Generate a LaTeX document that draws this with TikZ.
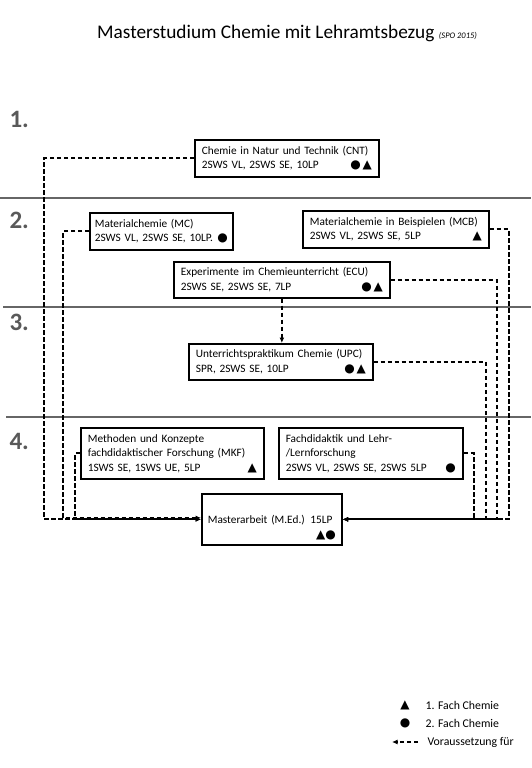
\documentclass[tikz,border=0pt]{standalone}
\usepackage{fontspec}
\setmainfont{Carlito}
\newfontfamily\symfont{DejaVu Sans}
\usetikzlibrary{arrows.meta}

\newcommand{\tri}{{\symfont\fontsize{12}{12}\selectfont ▲}}
\newcommand{\cir}{{\symfont\fontsize{12}{12}\selectfont ●}}

\tikzset{
    modul/.style={draw, line width=1.7pt, anchor=north west, inner xsep=7pt, inner ysep=2pt,
        align=left, font=\fontsize{11.3}{14.5}\selectfont},
    dep/.style={line width=1.9pt, dash pattern=on 4.5pt off 2.5pt, -{Latex[length=5.5pt,width=5pt]}},
    sem/.style={anchor=west, text=black!65, font=\bfseries\fontsize{25}{25}\selectfont},
    semline/.style={line width=2pt, black!60}
}

\begin{document}
\begin{tikzpicture}[x=1pt,y=-1pt]
    \useasboundingbox (0,0) rectangle (531,768);

    \node[anchor=base west, inner sep=0pt, font=\fontsize{19.3}{20}\selectfont] (title) at (97,39) {Masterstudium Chemie mit Lehramtsbezug};
    \node[anchor=base west, inner sep=0pt, font=\itshape\fontsize{8.5}{9}\selectfont] (spo) at ([xshift=4pt]title.base east) {(SPO 2015)};

    % Semester
    \node[sem] (s1) at (6,119) {1.};
    \node[sem] (s2) at (6,220) {2.};
    \node[sem] (s3) at (6,322) {3.};
    \node[sem] (s4) at (6,441) {4.};
    \draw[semline] (0,198) -- (531,198);
    \draw[semline] (3,307) -- (531,307);
    \draw[semline] (6,417) -- (531,417);

    % Module
    \node[modul, text width=170pt, minimum height=37pt] (cnt) at (194,139)
        {Chemie in Natur und Technik (CNT)\\2SWS VL, 2SWS SE, 10LP \hfill\cir\,\tri\hspace*{6pt}};
    \node[modul, text width=133pt, minimum height=37pt, inner xsep=5pt] (mc) at (89,212)
        {Materialchemie (MC)\\2SWS VL, 2SWS SE, 10LP.\hfill\cir};
    \node[modul, text width=172pt, minimum height=37pt] (mcb) at (302,210)
        {Materialchemie in Beispielen (MCB)\\2SWS VL, 2SWS SE, 5LP \hfill\tri};
    \node[modul, text width=202pt, minimum height=36pt] (ecu) at (173,261)
        {Experimente im Chemieunterricht (ECU)\\2SWS SE, 2SWS SE, 7LP \hfill\cir\,\tri};
    \node[modul, text width=170pt, minimum height=36pt] (upc) at (188,343)
        {Unterrichtspraktikum Chemie (UPC)\\SPR, 2SWS SE, 10LP \hfill\cir\,\tri\hspace*{4pt}};
    \node[modul, text width=169pt, minimum height=51pt] (mkf) at (80,427)
        {Methoden und Konzepte\\fachdidaktischer Forschung (MKF)\\1SWS SE, 1SWS UE, 5LP \hfill\tri\hspace*{6pt}};
    \node[modul, text width=170pt, minimum height=51pt] (fd) at (278,427)
        {Fachdidaktik und Lehr-\\/Lernforschung\\2SWS VL, 2SWS SE, 2SWS 5LP \hfill\cir\hspace*{4pt}};
    \node[modul, text width=128pt, minimum height=51pt, inner xsep=6pt] (ma) at (201,493)
        {\strut\\Masterarbeit (M.Ed.) 15LP\\\hfill\tri\cir\hspace*{-4pt}};

    % Voraussetzungen
    \draw[dep] (cnt.west) -- ++(-150,0) |- (ma.west);
    \draw[dep] (mc.west) -- ++(-26,0) |- ([yshift=1.5pt]ma.west);
    \draw[dep] (mkf.west) -- ++(-5,0) |- (ma.west);
    \draw[dep] (mcb.east) -- ++(19,0) |- (ma.east);
    \draw[dep] (ecu.east) -- ++(106,0) |- (ma.east);
    \draw[dep] (upc.east) -- ++(112,0) |- (ma.east);
    \draw[dep] (fd.east) -- ++(10,0) |- (ma.east);
    \draw[dep] (ecu.south) -- (ecu.south |- upc.north);

    % Legende
    \node[inner sep=0pt] (ltri) at (405,705) {\tri};
    \node[anchor=west, font=\fontsize{11.8}{13}\selectfont] (ltxt1) at (422,705) {1. Fach Chemie};
    \node[inner sep=0pt] (lcir) at (405,723) {\cir};
    \node[anchor=west, font=\fontsize{11.8}{13}\selectfont] (ltxt2) at (422,723) {2. Fach Chemie};
    \coordinate (larrl) at (392,742);
    \coordinate (larrr) at (418,742);
    \draw[dep] (larrr) -- (larrl);
    \node[anchor=west, font=\fontsize{11.8}{13}\selectfont] (ltxt3) at (424,742) {Voraussetzung für};
\end{tikzpicture}
\end{document}
